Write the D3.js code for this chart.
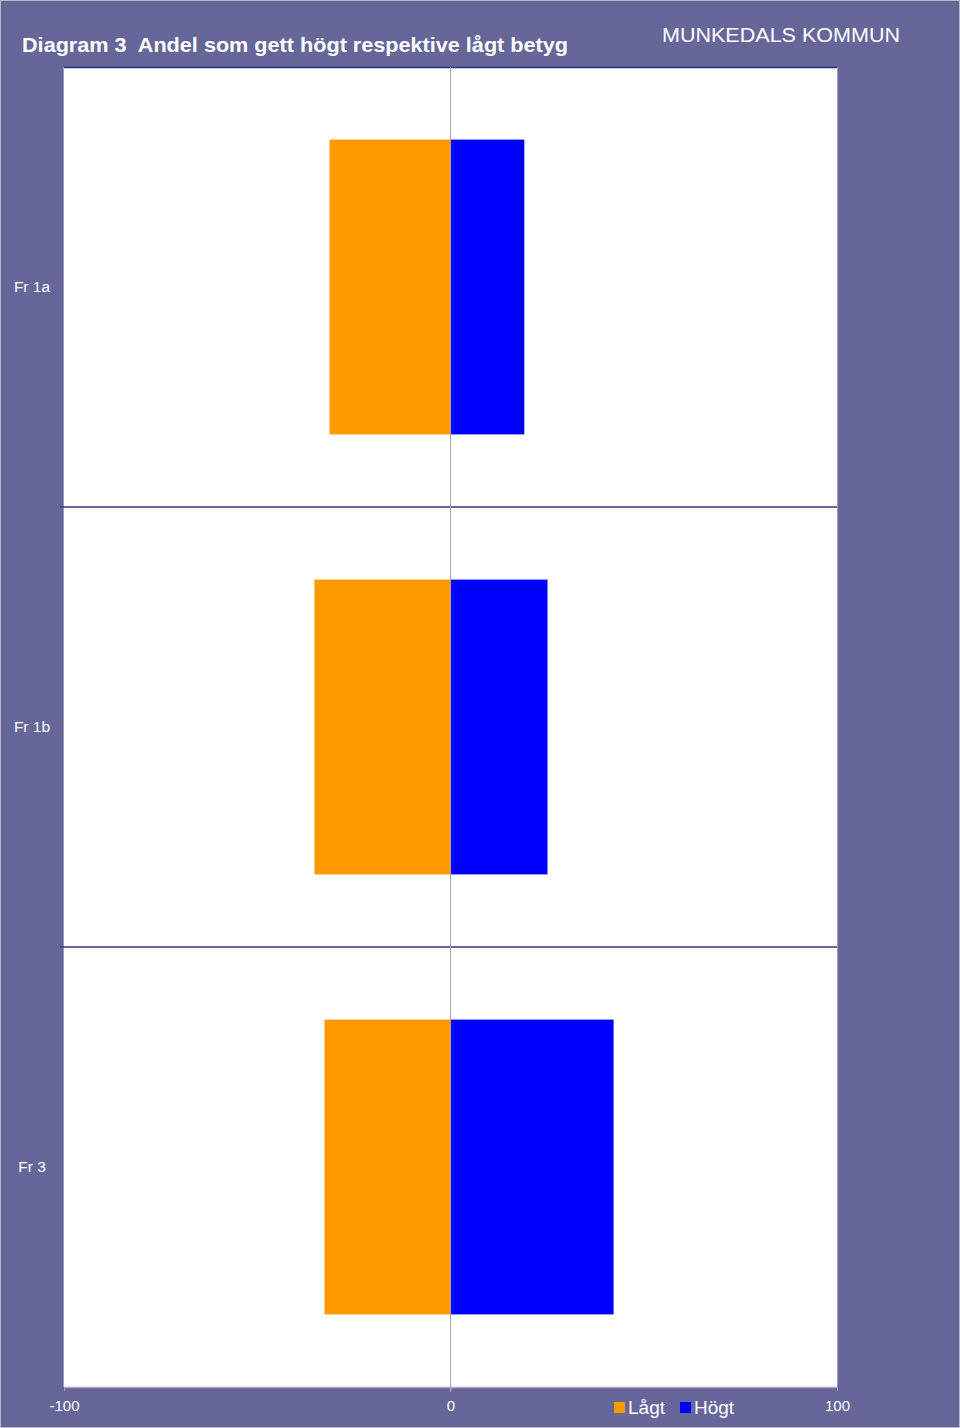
<!DOCTYPE html>
<html><head><meta charset="utf-8">
<script src="https://cdn.jsdelivr.net/npm/d3@7"></script>
<style>body{margin:0;background:#666699;}svg{display:block;font-family:Arial,"Liberation Sans",sans-serif;}</style>
</head><body>
<script>
const categories = ["Fr 1a", "Fr 1b", "Fr 3"];
const lagt = [-31.3, -35.2, -32.6];
const hogt = [19.1, 25.1, 42.2];
const tickValues = [-100, 0, 100];
const seriesNames = ["Lågt", "Högt"];
const colors = ["#FF9900", "#0000FF"];

const W = 960, H = 1428;
const m = {left: 64, right: 837, top: 67, bottom: 1387};
const svg = d3.select("body").append("svg").attr("width", W).attr("height", H);
svg.append("rect").attr("width", W).attr("height", H).attr("fill", "#666699");
svg.append("rect").attr("x",0.5).attr("y",0.5).attr("width",W-1).attr("height",H-1).attr("fill","none").attr("stroke","#b8b8d0").attr("stroke-width",1);

const x = d3.scaleLinear().domain([-100, 100]).range([m.left, m.right]);
const y = d3.scaleBand().domain(categories).range([m.top, m.bottom]).padding(0);

// plot area
svg.append("rect").attr("x", m.left).attr("y", m.top).attr("width", m.right - m.left).attr("height", m.bottom - m.top)
  .attr("fill", "#fff");
// borders
svg.append("line").attr("x1", m.left).attr("x2", m.right).attr("y1", m.top+0.5).attr("y2", m.top+0.5).attr("stroke", "#2a2a80").attr("stroke-width", 1.5);
svg.append("line").attr("x1", m.left-0.5).attr("x2", m.left-0.5).attr("y1", m.top).attr("y2", m.bottom).attr("stroke", "#9a9ab8").attr("stroke-width", 1);
svg.append("line").attr("x1", m.right+0.5).attr("x2", m.right+0.5).attr("y1", m.top).attr("y2", m.bottom).attr("stroke", "#9a9ab8").attr("stroke-width", 1);
svg.append("line").attr("x1", m.left).attr("x2", m.right).attr("y1", m.bottom+0.5).attr("y2", m.bottom+0.5).attr("stroke", "#a8a8c0").attr("stroke-width", 1.5);

// category separators
categories.slice(1).forEach(c => {
  svg.append("line").attr("x1", m.left - 4).attr("x2", m.right).attr("y1", y(c)).attr("y2", y(c))
    .attr("stroke", "#333388").attr("stroke-width", 1.5);
});

// bars
const frac = 0.67;
const bh = y.bandwidth() * frac;
const off = (y.bandwidth() - bh) / 2;
const rows = categories.map((c, i) => ({c, l: lagt[i], h: hogt[i]}));
svg.selectAll(".lagt").data(rows).join("rect")
  .attr("x", d => x(d.l)).attr("width", d => x(0) - x(d.l))
  .attr("y", d => y(d.c) + off).attr("height", bh).attr("fill", colors[0]);
svg.selectAll(".hogt").data(rows).join("rect")
  .attr("x", x(0)).attr("width", d => x(d.h) - x(0))
  .attr("y", d => y(d.c) + off).attr("height", bh).attr("fill", colors[1]);

// zero line
svg.append("line").attr("x1", x(0)).attr("x2", x(0)).attr("y1", m.top).attr("y2", m.bottom + 5)
  .attr("stroke", "#a4a4b4").attr("stroke-width", 1);

// category labels
svg.selectAll(".cl").data(categories).join("text")
  .attr("x", 32).attr("y", d => y(d) + y.bandwidth()/2 + 5)
  .attr("text-anchor", "middle").attr("fill", "#fff").attr("font-size", 15.5).text(d => d);

// x axis
const ax = svg.append("g").attr("transform", `translate(0,${m.bottom})`)
  .call(d3.axisBottom(x).tickValues(tickValues).tickSize(4).tickFormat(d => String(d)));
ax.select(".domain").remove();
ax.selectAll("line").attr("stroke", "#a8a8c0");
ax.selectAll("text").attr("fill", "#fff").attr("font-size", 15).attr("dy", "0").attr("y", 24);

// title
svg.append("text").attr("x", 22).attr("y", 52).attr("fill", "#fff").attr("font-size", 21).attr("font-weight", "bold")
  .attr("xml:space", "preserve").style("white-space", "pre")
  .attr("textLength", 546).attr("lengthAdjust", "spacingAndGlyphs")
  .text("Diagram 3  Andel som gett högt respektive lågt betyg");
svg.append("text").attr("x", 662).attr("y", 42).attr("fill", "#fff").attr("font-size", 21)
  .attr("textLength", 238).attr("lengthAdjust", "spacingAndGlyphs")
  .text("MUNKEDALS KOMMUN");

// legend
const lg = svg.append("g");
const legX = [614, 680];
seriesNames.forEach((s, i) => {
  lg.append("rect").attr("x", legX[i]).attr("y", 1402).attr("width", 11).attr("height", 11).attr("fill", colors[i]);
  lg.append("text").attr("x", legX[i] + 14).attr("y", 1414).attr("fill", "#fff").attr("font-size", 19).text(s);
});
</script>
</body></html>
